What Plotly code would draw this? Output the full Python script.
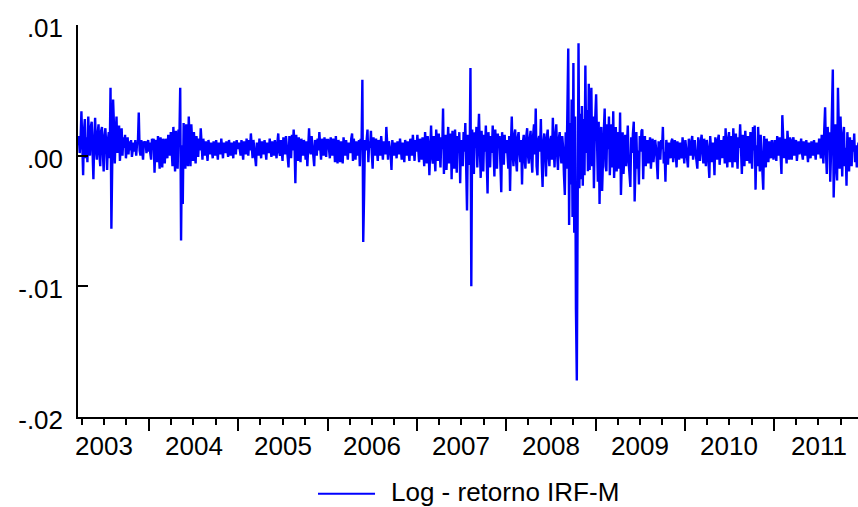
import pandas as pd
import plotly.graph_objects as go

# Daily log-return of the IRF-M index, read off the picture about twice a week,
# in units of 0.001 (per-mille)
ret_2003 = [0.8, 1.5, 0.2, 1.2, 3.4, 0.6, -1.5, 1.9, 2.8, -0.2,
            1.4, -0.5, 3.0, 0.9, 0.0, 2.2, 2.6, 0.4, -1.8, 1.1,
            2.9, 0.5, -0.3, 1.7, 2.4, 0.1, -0.8, 1.9, 2.2, 0.3,
            -1.2, 1.5, 2.1, 0.8, -1.1, 1.2, 1.8, -0.2, 5.2, -5.6,
            1.0, 4.3, 2.4, -0.6, 1.6, 3.0, 0.2, 1.8, 2.3, -0.4,
            1.2, 2.1, 0.0, 1.4, 0.6, 1.6, -0.2, 0.9, 1.4, 0.1,
            1.1, 0.4, 1.2, -0.1, 0.8, 1.0, 0.3, 1.2, 0.0, 0.9,
            1.0, 3.3, 0.4, 0.0, 1.2, 0.6, -0.3, 1.1, 0.7, 1.1,
            0.2, 0.9, 1.2, 0.3]
ret_2004 = [1.0, 0.2, -0.3, 1.3, 0.7, 1.3, -1.3, 0.9, 1.2, -0.5,
            1.5, 0.3, -1.0, 1.4, 0.8, -0.9, 1.3, 0.2, -0.6, 1.3,
            0.6, -0.2, 1.6, 0.9, 0.0, 1.8, 0.5, -0.8, 2.2, 1.0,
            -1.2, 1.9, 0.4, -1.0, 2.0, 1.2, 5.2, -6.5, 0.8, -3.7,
            2.5, -0.2, -1.0, 2.4, 1.0, -0.8, 3.0, 0.2, -0.8, 2.4,
            0.6, -0.4, 1.8, 0.3, -0.6, 1.5, 0.9, -0.1, 1.3, 0.4,
            2.1, 0.5, -0.3, 1.3, 0.6, 0.0, 1.1, 0.5, -0.4, 1.2,
            0.7, 0.1, 1.0, 0.4, -0.2, 1.1, 0.6, 0.0, 1.2, 0.5,
            -0.3, 1.0, 0.6, 0.1, 1.3, 0.4, -0.2, 1.0, 0.7, 0.2,
            1.1, 0.3, -0.1, 1.2, 0.5, 0.0, 1.0, 0.6, -0.2, 1.1,
            0.4, 0.1, 1.2, 0.5]
ret_2005 = [1.0, 0.4, 0.0, 1.2, 0.6, -0.3, 1.1, 0.5, 0.1, 1.3,
            0.7, 0.0, 1.2, 0.4, 1.7, 0.3, -0.2, 1.2, 0.6, 0.1,
            -0.8, 1.0, 0.5, 0.0, 1.3, 0.6, -0.2, 1.1, 0.4, 0.1,
            1.2, 0.5, -0.3, 1.0, 0.6, 0.2, 1.3, 0.4, -0.1, 1.1,
            0.5, 0.0, 1.2, 0.6, -0.2, 1.0, 1.7, 0.3, 0.0, 1.2,
            0.6, -0.4, 1.4, 0.5, 0.1, 1.5, 0.8, -0.3, -0.9, 1.5,
            0.5, -0.2, 1.6, 0.4, 2.0, 0.8, -2.1, 1.6, 0.3, -0.4,
            1.4, 0.6, -0.5, 1.3, 0.5, 0.0, 1.2, 0.7, -0.3, 1.1,
            -0.8, 0.9, 2.1, 0.4, 0.1, 1.5, 0.6, -0.2, -0.8, 1.2,
            0.7, 0.0, 1.3, 0.4, 1.8, 0.2, -0.3, 1.3, 0.6, 0.0,
            1.4, 0.5, -0.1, 1.2]
ret_2006 = [1.2, 0.5, -0.2, 1.4, 0.6, 0.0, 1.3, 0.7, -0.5, 1.5,
            0.4, -0.6, 1.2, 0.8, -0.5, 1.1, 0.5, -0.6, 1.4, 0.7,
            0.0, 1.2, 0.5, -0.3, 1.0, 0.6, 0.2, 1.3, 1.7, -0.4,
            1.3, 0.6, -0.3, 1.1, 0.4, 0.0, 1.2, -0.8, 1.3, 0.6,
            5.8, -6.6, -3.1, 1.2, 0.4, 1.6, 2.0, -0.5, 1.1, 0.6,
            1.9, 0.2, -1.0, 1.4, 0.6, 0.0, 1.3, 0.5, -0.4, 1.2,
            0.7, 0.0, 1.5, 0.4, -0.3, 1.1, 0.6, 0.1, 2.2, 0.4,
            -0.3, 1.1, 0.6, 0.2, -1.1, 1.2, 0.5, 0.0, 1.0, 0.6,
            -0.2, 1.1, 0.5, 0.1, 1.3, 0.6, -0.3, 1.0, 0.5, -0.5,
            1.2, 0.6, 0.0, 1.1, 0.4, -0.4, 1.3, 0.7, 0.0, 1.6,
            0.5, -0.4, 1.2, 0.3]
ret_2007 = [1.6, 0.2, -0.5, 1.3, 0.6, -0.3, 1.4, 0.3, -0.8, 1.8,
            0.5, -0.6, 1.5, 0.8, -1.5, 1.2, 2.3, 0.0, -0.6, 1.5,
            0.4, -1.2, 2.0, 0.6, -0.4, 1.7, 0.2, -0.9, 1.4, 0.5,
            3.6, -1.4, 0.8, 1.6, -1.1, 0.4, 2.2, -0.6, 1.0, 1.7,
            -1.8, 1.9, 0.3, -1.0, 2.0, 0.7, -1.3, 1.5, 0.2, 1.8,
            -2.1, 1.2, 0.5, -0.8, 1.8, 0.3, 2.5, -0.5, -4.2, 1.6,
            0.4, -0.7, 6.7, -10.0, 2.0, -0.3, -1.4, 1.8, 0.6, 2.2,
            -0.9, 1.4, 3.2, 0.5, -1.7, 1.9, 0.4, -1.2, 1.6, 0.3,
            2.3, -0.8, -2.9, 1.8, 0.6, -0.9, 1.5, 0.2, 2.3, -0.5,
            -1.6, 2.0, 0.4, -1.0, 1.7, 0.6, 1.5, -0.4, -2.8, 1.8,
            0.5, -0.7, 1.6, 0.2]
ret_2008 = [1.2, -0.2, -1.0, 1.5, -2.7, 0.8, 3.0, 0.2, -0.8, 1.6,
            2.0, -0.4, -1.2, 1.4, 1.8, 0.3, -0.5, 1.2, -2.2, 1.0,
            1.6, -0.3, -1.0, 1.5, 2.1, 0.0, -0.6, 1.3, 1.9, -0.2,
            -1.3, 1.6, 2.4, 0.1, 3.6, -0.8, -1.5, 1.2, 1.5, 0.3,
            2.8, -0.5, -2.4, 1.0, 1.7, 0.2, -1.6, 1.4, 2.0, 0.0,
            -0.8, 1.2, 1.5, -0.3, 2.9, 0.5, -0.9, 1.6, 2.4, 0.1,
            -1.1, 1.3, 1.8, 0.2, -0.6, 1.5, 0.6, -1.5, -3.0, 1.8,
            -1.0, 3.5, 8.2, -5.3, 2.5, -2.2, 4.3, -4.7, 7.1, -5.9,
            3.0, -11.8, -17.2, -4.0, 8.6, -2.5, 3.2, -1.8, 3.8, -2.3,
            2.8, -1.5, 6.9, 0.2, 3.5, -1.2, 5.5, -1.1, 2.5, 5.2,
            -0.8, 3.0, -2.5, 2.0]
ret_2009 = [4.7, 0.5, -2.0, 2.6, -3.7, 1.2, 2.2, -2.7, 0.8, 1.9,
            3.6, -0.8, -1.2, 2.4, 0.5, 3.0, -1.5, 0.2, 2.4, -0.9,
            3.4, -1.7, 0.9, 2.2, -1.2, 0.4, 1.8, -1.0, 3.3, -3.0,
            1.0, 1.8, -1.4, 0.3, 1.6, -0.8, 0.6, 2.3, -0.5, -1.2,
            -2.4, 1.4, 0.2, 1.7, 2.6, -3.5, 0.8, 1.8, -1.0, 0.4,
            -2.2, 1.5, 0.3, 1.9, 2.0, -1.8, 0.7, 1.5, -0.8, 0.2,
            1.2, -0.6, 0.6, 1.4, -1.0, 0.5, 1.3, -0.5, 0.1, 1.2,
            0.6, -0.4, -1.8, 1.1, 0.4, -0.3, 1.2, 0.5, 2.2, -0.6,
            0.3, -2.0, 1.2, 0.6, -0.7, 1.0, 0.4, -0.2, 1.1, 1.3,
            -0.5, 0.6, 1.2, 0.2, -0.9, 1.1, 0.5, -0.3, 1.0, 0.6,
            -0.2, 1.4, 0.5, -0.6]
ret_2010 = [1.2, 0.4, -0.2, -0.9, 1.3, 0.6, 0.0, 1.1, 1.5, -0.3,
            0.7, 1.2, 0.2, -0.4, -1.0, 1.4, 0.5, -0.4, 1.1, 1.6,
            0.3, -0.6, 1.3, 0.5, -0.8, 1.2, 0.7, -0.5, -1.7, 1.5,
            0.6, -0.5, 1.0, 0.4, -1.5, 1.4, 0.7, -0.3, 1.2, 1.6,
            -0.7, 0.5, 1.2, -0.2, 0.8, 1.5, -0.6, 2.1, 0.3, -0.9,
            1.3, 1.8, -0.5, 0.6, 1.5, -0.9, 2.1, 0.4, -0.5, 1.7,
            0.2, -1.0, 1.4, 0.6, 2.4, -0.3, -1.4, 1.6, 0.5, -0.8,
            1.9, 0.3, -0.4, 1.5, 0.6, -0.6, 1.8, 0.2, -1.0, 2.2,
            0.4, 2.3, -2.6, 0.8, -0.8, 2.2, 0.5, -1.2, 1.6, 0.3,
            -0.6, -2.6, 1.5, 0.4, -0.9, 1.3, 0.6, -0.5, 1.1, 0.3,
            -0.2, 1.2, 0.5, -0.3]
ret_2011 = [1.2, 0.3, -0.4, 1.5, 0.6, 0.0, 1.4, 0.2, -1.4, 3.1,
            0.5, -0.2, 1.3, 0.4, -0.6, 1.9, 0.3, -0.3, 1.4, 0.7,
            -0.3, 1.2, 1.4, 0.0, 0.6, 1.2, -0.4, 0.8, 1.1, 0.1,
            0.6, 1.3, 0.2, -0.3, 1.1, 0.5, 0.0, 1.2, 0.6, -0.5,
            1.0, 0.4, -0.2, 1.1, 0.6, 0.0, 1.2, 0.4, -0.3, 1.0,
            0.6, 0.1, 1.3, 0.4, -0.2, 1.6, 0.3, -0.6, 2.0, 3.7,
            0.2, -1.4, 2.2, 0.5, 1.8, -2.0, 0.4, 2.6, 6.6, -3.2,
            1.2, 2.4, -0.8, -1.9, 5.2, 0.3, -1.0, 3.0, 0.8, -1.6,
            1.5, 2.2, -0.8, 0.6, -2.3, 1.8, 0.4, -1.2, 1.4, 0.6,
            -0.8, 1.2, 0.3, 1.7, -0.5, 0.8, -0.9, 0.4, 1.0, -0.2]

years = [2003, 2004, 2005, 2006, 2007, 2008, 2009, 2010, 2011]
year_values = [ret_2003, ret_2004, ret_2005, ret_2006, ret_2007, ret_2008,
               ret_2009, ret_2010, ret_2011]
year_starts = ["2003-03-17"] + [f"{y}-01-03" for y in years[1:]]

tick_labels = ["2003", "2004", "2005", "2006", "2007", "2008", "2009", "2010", "2011"]
y_tick_vals = [-0.02, -0.01, 0.0, 0.01]
y_tick_text = ["-.02", "-.01", ".00", ".01"]
series_name = "Log - retorno IRF-M"

PER_MILLE = 0.001
dates, values = [], []
for start, vals in zip(year_starts, year_values):
    dates.extend(pd.date_range(start, periods=len(vals), freq="84h"))
    values.extend(v * PER_MILLE for v in vals)

FONT = "Liberation Sans, Arial, sans-serif"
BLUE = "#0000FF"

fig = go.Figure()
fig.add_trace(go.Scatter(x=dates, y=values, mode="lines", name=series_name,
                         showlegend=False, line=dict(color=BLUE, width=2.4)))

major_ticks = [f"{y}-01-01" for y in range(2004, 2012)]
minor_ticks = [f"{y}-{m:02d}-01" for y in range(2003, 2012) for m in (4, 7, 10)]

fig.update_layout(
    width=858, height=507,
    margin=dict(l=78, r=0, t=25, b=90, autoexpand=False),
    paper_bgcolor="white", plot_bgcolor="white",
    font=dict(family=FONT, size=26, color="black"),
    showlegend=False,
    xaxis=dict(
        type="date", range=["2003-03-17", "2011-12-10"], automargin=False,
        showgrid=False, zeroline=False,
        showline=True, linecolor="black", linewidth=1.5,
        tickmode="array", tickvals=major_ticks, ticks="outside", ticklen=12,
        tickwidth=2, tickcolor="black", showticklabels=False,
        minor=dict(tickmode="array", tickvals=minor_ticks, ticks="outside",
                   ticklen=6, tickwidth=1.5, tickcolor="black", showgrid=False),
    ),
    yaxis=dict(
        range=[-0.02, 0.01], automargin=False, showgrid=False, zeroline=False,
        showline=True, linecolor="black", linewidth=1.5,
        tickmode="array", tickvals=y_tick_vals, ticktext=y_tick_text,
        ticks="inside", ticklen=10, tickwidth=1.5, tickcolor="black",
        ticklabelstandoff=8, ticklabelshift=3,
        tickfont=dict(family=FONT, size=26, color="black"),
    ),
)

for y, label in zip(years, tick_labels):
    fig.add_annotation(x=f"{y}-07-02", y=-0.074, xref="x", yref="paper",
                       text=label, showarrow=False, xanchor="center", yanchor="middle",
                       font=dict(family=FONT, size=26, color="black"))

# legend: line sample + series name below the plot
fig.add_shape(type="line", xref="paper", yref="paper",
              x0=0.3077, x1=0.3808, y0=-0.196, y1=-0.196,
              line=dict(color=BLUE, width=2))
fig.add_annotation(x=0.3987, y=-0.191, xref="paper", yref="paper",
                   text=series_name, showarrow=False, xanchor="left", yanchor="middle",
                   font=dict(family=FONT, size=26, color="black"))

# let the figure fill the 858x507 window exactly (no default page margin)
fig.write_html("out.html", config={"displayModeBar": False},
               post_script="document.body.style.margin='0';")
